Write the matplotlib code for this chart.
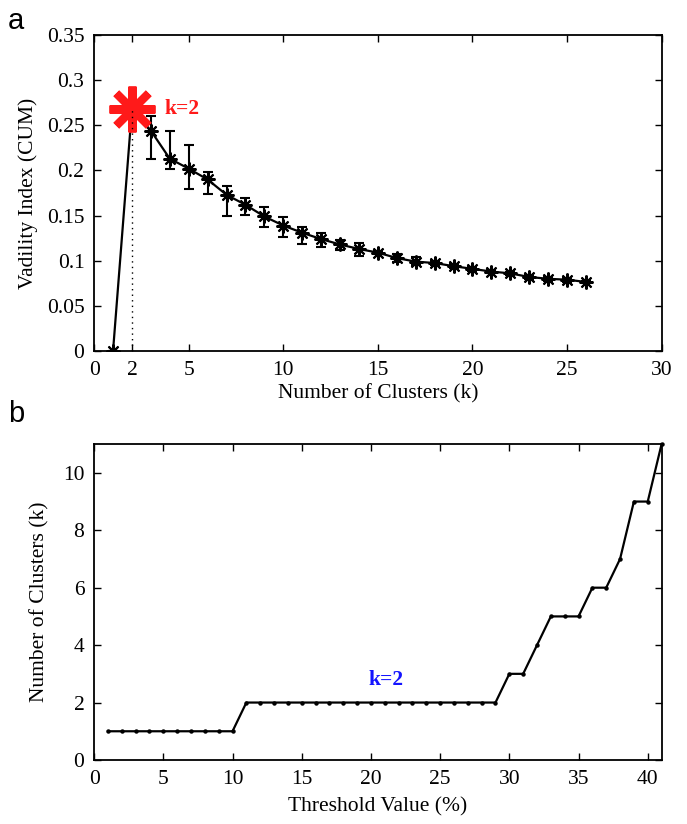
import matplotlib
matplotlib.use("Agg")
import matplotlib.pyplot as plt
import numpy as np

# Panel a: validity index vs number of clusters
k_values = [1, 2, 3, 4, 5, 6, 7, 8, 9, 10, 11, 12, 13, 14, 15, 16, 17, 18, 19, 20,
            21, 22, 23, 24, 25, 26]
cum_mean = [0.0, 0.268, 0.244, 0.213, 0.202, 0.190, 0.173, 0.162, 0.149, 0.139,
            0.131, 0.124, 0.118, 0.113, 0.109, 0.103, 0.099, 0.0975, 0.094, 0.091,
            0.088, 0.086, 0.082, 0.080, 0.079, 0.0765]
cum_upper = [0.0, 0.268, 0.260, 0.244, 0.228, 0.198, 0.183, 0.170, 0.160, 0.148,
             0.137, 0.131, 0.123, 0.120, 0.111, 0.108, 0.104, 0.100, 0.096, 0.093,
             0.090, 0.088, 0.084, 0.082, 0.081, 0.078]
cum_lower = [0.0, 0.268, 0.213, 0.202, 0.179, 0.174, 0.149, 0.151, 0.137, 0.126,
             0.118, 0.115, 0.112, 0.105, 0.107, 0.099, 0.095, 0.095, 0.092, 0.089,
             0.086, 0.084, 0.080, 0.078, 0.077, 0.075]
best_k = 2
best_cum = 0.268
a_xticks = [0, 2, 5, 10, 15, 20, 25, 30]
a_yticks = [0, 0.05, 0.1, 0.15, 0.2, 0.25, 0.3, 0.35]
a_yticklabels = ["0", "0.05", "0.1", "0.15", "0.2", "0.25", "0.3", "0.35"]

# Panel b: number of clusters vs threshold
threshold = list(range(1, 42))
n_clusters = [1] * 10 + [2] * 19 + [3, 3, 4, 5, 5, 5, 6, 6, 7, 9, 9, 11]
b_xticks = [0, 5, 10, 15, 20, 25, 30, 35, 40]
b_yticks = [0, 2, 4, 6, 8, 10]

serif = ["Liberation Serif", "DejaVu Serif"]
plt.rcParams["font.family"] = serif
plt.rcParams["font.size"] = 15.5

fig = plt.figure(figsize=(6.87, 8.24), dpi=100)
ax_a = fig.add_axes([0.137, 0.574, 0.826, 0.3835])
ax_b = fig.add_axes([0.137, 0.0777, 0.826, 0.3833])

asterisk = (8, 2, 0)

# ---- panel a ----
mean = np.array(cum_mean)
yerr = np.vstack([mean - np.array(cum_lower), np.array(cum_upper) - mean])
ax_a.errorbar(k_values, cum_mean, yerr=yerr, color="black", linewidth=1.6,
              elinewidth=1.5, capsize=3.6, capthick=1.5, marker=asterisk,
              markersize=10, markeredgewidth=1.5, zorder=2)
ax_a.plot([best_k], [best_cum], marker=asterisk, markersize=33,
          markeredgewidth=5.8, color="#ff1a1a", linestyle="none", zorder=3)
ax_a.plot([best_k, best_k], [0, best_cum], linestyle=(0, (1, 3)), color="black",
          linewidth=1.0, zorder=4)
ax_a.text(3.7, best_cum, "k=2", color="#ff1a1a", fontweight="bold",
          fontsize=15.5, va="center", ha="left", zorder=4)
ax_a.set_xlim(0, 30)
ax_a.set_ylim(0, 0.35)
ax_a.set_xticks(a_xticks)
ax_a.set_yticks(a_yticks)
ax_a.set_yticklabels(a_yticklabels)
ax_a.set_xlabel("Number of Clusters (k)", labelpad=3)
ax_a.set_ylabel("Vadility Index (CUM)", labelpad=6)

# ---- panel b ----
ax_b.plot(threshold, n_clusters, color="black", linewidth=1.6, marker="o",
          markersize=2.2, clip_on=False)
ax_b.text(21.1, 2.8, "k=2", color="#1414ff", fontweight="bold", fontsize=15.5,
          ha="center", va="center")
ax_b.set_xlim(0, 41)
ax_b.set_ylim(0, 11)
ax_b.set_xticks(b_xticks)
ax_b.set_yticks(b_yticks)
ax_b.set_xlabel("Threshold Value (%)", labelpad=6)
ax_b.set_ylabel("Number of Clusters (k)", labelpad=10)

for ax in (ax_a, ax_b):
    ax.tick_params(direction="in", top=True, right=True, length=5, width=1.0,
                   labelsize=15.5, pad=7)
    for sp in ax.spines.values():
        sp.set_linewidth(1.3)

sans = ["Liberation Sans", "DejaVu Sans"]
fig.text(0.012, 0.992, "a", family=sans, fontsize=21, va="top", ha="left")
fig.text(0.012, 0.515, "b", family=sans, fontsize=21, va="top", ha="left")

fig.savefig("out.png", dpi=100)
